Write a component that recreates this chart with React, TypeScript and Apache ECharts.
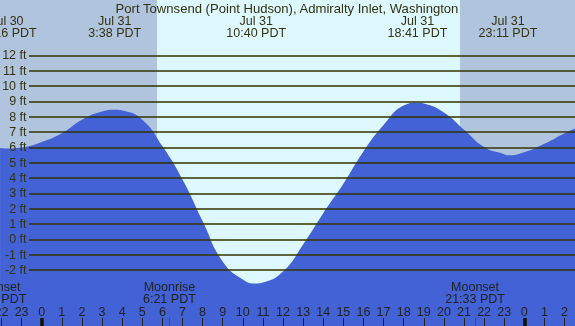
import React, { useEffect, useRef } from 'react';
import * as echarts from 'echarts';

const TITLE = 'Port Townsend (Point Hudson), Admiralty Inlet, Washington';

// Hours relative to Jul 31 00:00 PDT, heights in feet
const hourlyTimes = [-2.07, -1, 0, 1, 2, 3, 4, 5, 6, 7, 8, 9, 10, 11, 12, 13, 14, 15, 16, 17, 18, 19, 20, 21, 22, 23, 24, 25, 26, 26.55];
const hourlyHeights = [5.96, 5.99, 6.35, 6.92, 7.8, 8.34, 8.4, 7.8, 6.08, 3.9, 1.2, -1.45, -2.62, -2.82, -2.1, -0.34, 1.7, 3.62, 5.72, 7.45, 8.72, 8.86, 8.27, 7.15, 6.02, 5.55, 5.68, 6.23, 6.92, 7.25];

// High / low tides
const extremeTimes = [-1.733, 3.633, 10.667, 18.683, 23.183];
const extremeHeights = [5.93, 8.45, -2.88, 8.91, 5.48];
const extremeDates = ['Jul 30', 'Jul 31', 'Jul 31', 'Jul 31', 'Jul 31'];
const extremeLabels = ['22:16 PDT', '3:38 PDT', '10:40 PDT', '18:41 PDT', '23:11 PDT'];

// Moon events
const moonTimes = [-2.25, 6.35, 21.55];
const moonEvents = ['Moonset', 'Moonrise', 'Moonset'];
const moonLabels = ['21:45 PDT', '6:21 PDT', '21:33 PDT'];

// Sun
const sunriseHour = 5.733; // 5:44
const sunsetHour = 20.8; // 20:48

// Axis ticks
const hourTicks = [-2, -1, 0, 1, 2, 3, 4, 5, 6, 7, 8, 9, 10, 11, 12, 13, 14, 15, 16, 17, 18, 19, 20, 21, 22, 23, 24, 25, 26];
const midnightTicks = [0, 24];
const depthMin = -2;
const depthMax = 12;

// Layout constants
const OFFSET_LEFT = 40;
const X_MIN = -4.0627;
const X_MAX = 26.519;
const Y_MIN = -5.651;
const Y_MAX = 15.606;

const FONT = '"Liberation Sans", Arial, sans-serif';
const TEXT = '#333310';
const NIGHT = '#b0c4de';
const DAY = '#ddf8ff';
const BLUE = '#4262d6';
const GRIDLINE = '#333300';

function nearestIndex(arr: number[], v: number) {
  let best = 0;
  for (let i = 1; i < arr.length; i++) {
    if (Math.abs(arr[i] - v) < Math.abs(arr[best] - v)) best = i;
  }
  return best;
}

export default function App() {
  const ref = useRef<HTMLDivElement>(null);

  useEffect(() => {
    if (!ref.current) return;
    const chart = echarts.init(ref.current, undefined, { renderer: 'svg' });

    const tide: [number, number][] = [];
    hourlyTimes.forEach((t, i) => tide.push([t, hourlyHeights[i]]));
    extremeTimes.forEach((t, i) => tide.push([t, extremeHeights[i]]));
    tide.sort((a, b) => a[0] - b[0]);

    const bgData = [
      [X_MIN, sunriseHour, 0],
      [sunriseHour, sunsetHour, 1],
      [sunsetHour, X_MAX, 0],
    ];

    const xBase = {
      type: 'value',
      gridIndex: 0,
      min: X_MIN,
      max: X_MAX,
      axisLine: { show: false, onZero: false },
      splitLine: { show: false },
      z: 10,
    };

    const labelStyle = { fontSize: 12.5, fontFamily: FONT, lineHeight: 12 };

    chart.setOption({
      animation: false,
      title: {
        text: TITLE,
        left: OFFSET_LEFT + 287,
        top: 1.5,
        textAlign: 'center',
        padding: 0,
        textStyle: { fontSize: 13.1, fontWeight: 'normal', color: TEXT, fontFamily: FONT, lineHeight: 13 },
      },
      grid: [
        { left: 0, right: 0, top: 0, bottom: 0 },
        { left: OFFSET_LEFT + 29, right: 0, top: 55.3, bottom: 56 },
      ],
      xAxis: [
        {
          ...xBase,
          position: 'bottom',
          axisTick: { show: true, inside: true, length: 8, customValues: hourTicks, lineStyle: { color: '#222222', width: 1 } },
          axisLabel: {
            show: true,
            inside: true,
            margin: 8.3,
            customValues: hourTicks,
            color: '#222222',
            ...labelStyle,
            formatter: (v: number) => String(((Math.round(v) % 24) + 24) % 24),
          },
        },
        {
          ...xBase,
          position: 'bottom',
          axisTick: { show: true, inside: true, length: 8, customValues: moonTimes, lineStyle: { color: '#ff0000', width: 1 } },
          axisLabel: {
            show: true,
            inside: true,
            margin: 20.7,
            customValues: moonTimes,
            color: '#222222',
            ...labelStyle,
            formatter: (v: number) => {
              const i = nearestIndex(moonTimes, v);
              return moonEvents[i] + '\n' + moonLabels[i];
            },
          },
        },
        {
          ...xBase,
          position: 'bottom',
          z: 11,
          axisTick: { show: true, inside: true, length: 8, customValues: midnightTicks, lineStyle: { color: '#111100', width: 3.5 } },
          axisLabel: { show: false },
        },
        {
          ...xBase,
          position: 'top',
          axisTick: { show: false },
          axisLabel: {
            show: true,
            inside: true,
            margin: 14.5,
            customValues: extremeTimes,
            color: TEXT,
            ...labelStyle,
            formatter: (v: number) => {
              const i = nearestIndex(extremeTimes, v);
              return extremeDates[i] + '\n' + extremeLabels[i];
            },
          },
        },
        { type: 'value', gridIndex: 1, show: false, min: 0, max: 1 },
      ],
      yAxis: [
        { type: 'value', gridIndex: 0, min: Y_MIN, max: Y_MAX, show: false },
        {
          type: 'value',
          gridIndex: 1,
          min: depthMin,
          max: depthMax,
          interval: 1,
          position: 'left',
          z: 10,
          axisLine: { show: false },
          axisTick: { show: false },
          axisLabel: { formatter: '{value} ft', margin: 2.5, fontSize: 12.5, fontFamily: FONT, color: TEXT },
          splitLine: { show: true, lineStyle: { color: GRIDLINE, width: 1.5 } },
        },
      ],
      series: [
        {
          type: 'custom',
          xAxisIndex: 0,
          yAxisIndex: 0,
          z: 1,
          silent: true,
          data: bgData,
          encode: { x: [0, 1] },
          renderItem: (params: any, api: any) => {
            const x0 = api.coord([api.value(0), 0])[0];
            const x1 = api.coord([api.value(1), 0])[0];
            const cs = params.coordSys;
            return {
              type: 'rect',
              shape: { x: x0, y: cs.y, width: x1 - x0, height: cs.height },
              style: { fill: api.value(2) ? DAY : NIGHT },
            };
          },
        },
        {
          type: 'line',
          xAxisIndex: 0,
          yAxisIndex: 0,
          z: 2,
          silent: true,
          data: tide,
          smooth: 0.5,
          symbol: 'none',
          showSymbol: false,
          lineStyle: { width: 0, opacity: 0 },
          areaStyle: { color: BLUE, opacity: 1, origin: 'start' },
        },
      ],
    });

    return () => chart.dispose();
  }, []);

  return (
    <div
      ref={ref}
      style={{ position: 'fixed', left: -OFFSET_LEFT, top: 0, width: 575 + OFFSET_LEFT, height: 326 }}
    />
  );
}
